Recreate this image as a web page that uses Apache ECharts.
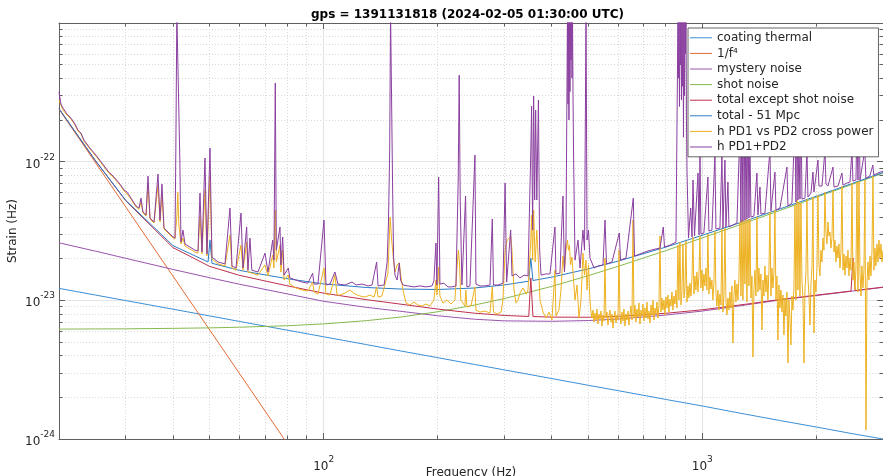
<!DOCTYPE html>
<html>
<head>
<meta charset="utf-8">
<title>Strain noise budget</title>
<script src="https://cdn.jsdelivr.net/npm/echarts@6/dist/echarts.min.js"></script>
<style>
  html, body { margin: 0; padding: 0; background: #ffffff; }
  #chart { width: 883px; height: 476px; }
</style>
</head>
<body>
<div id="chart"></div>
<script>
// ---- text ---------------------------------------------------------------
const chartTitle = 'gps = 1391131818 (2024-02-05 01:30:00 UTC)';
const xAxisName = 'Frequency (Hz)';
const yAxisName = 'Strain (Hz)';

// ---- axis ticks ---------------------------------------------------------
const xRange = [20, 3000];
const yRange = [1e-24, 1e-21];
const xMajorTicks = [100, 1000];
const xMinorTicks = [30, 40, 50, 60, 70, 80, 90, 200, 300, 400, 500, 600, 700, 800, 900, 2000];
const yMajorTicks = [1e-23, 1e-22];
const yLabelTicks = [1e-24, 1e-23, 1e-22];
const yMinorTicks = [
  2e-24, 3e-24, 4e-24, 5e-24, 6e-24, 7e-24, 8e-24, 9e-24,
  2e-23, 3e-23, 4e-23, 5e-23, 6e-23, 7e-23, 8e-23, 9e-23,
  2e-22, 3e-22, 4e-22, 5e-22, 6e-22, 7e-22, 8e-22, 9e-22
];

// ---- noise model curves (Hz, strain/rtHz) -------------------------------
const modelFreq = [20, 25, 30, 40, 50, 60, 80, 100, 130, 160, 200, 250, 300, 400, 500, 600, 800, 1000, 1300, 1600, 2000, 2500, 3000];
const coatingThermal = [12.2e-24, 10.91e-24, 9.96e-24, 8.63e-24, 7.72e-24, 7.04e-24, 6.10e-24, 5.46e-24, 4.79e-24, 4.31e-24, 3.86e-24, 3.45e-24, 3.15e-24, 2.73e-24, 2.44e-24, 2.23e-24, 1.93e-24, 1.73e-24, 1.51e-24, 1.36e-24, 1.22e-24, 1.09e-24, 1.0e-24];
const shotNoise = [6.20e-24, 6.22e-24, 6.23e-24, 6.28e-24, 6.33e-24, 6.40e-24, 6.56e-24, 6.76e-24, 7.14e-24, 7.58e-24, 8.27e-24, 9.24e-24, 10.3e-24, 12.6e-24, 15.07e-24, 17.6e-24, 22.8e-24, 28.2e-24, 36.2e-24, 44.4e-24, 55.3e-24, 69.0e-24, 82.6e-24];
const mysteryNoise = [26.0e-24, 22.6e-24, 20.1e-24, 16.7e-24, 14.55e-24, 13.06e-24, 11.14e-24, 9.84e-24, 8.89e-24, 8.33e-24, 7.74e-24, 7.31e-24, 7.11e-24, 7.06e-24, 7.15e-24, 7.33e-24, 7.83e-24, 8.37e-24, 9.25e-24, 10.05e-24, 10.83e-24, 11.67e-24, 12.41e-24];
const invF4Freq = [20, 80];
const invF4 = [239e-24, 0.934e-24];

const totalExceptShot = [
  [20, 240.7e-24], [25, 101.0e-24], [30, 52.3e-24], [40, 24.0e-24], [50, 17.57e-24], [60, 15.13e-24],
  [80, 12.74e-24], [100, 11.26e-24], [130, 10.10e-24], [160, 9.38e-24], [200, 8.65e-24], [250, 8.08e-24],
  [300, 7.78e-24], [348, 7.65e-24], [352.4, 14.5e-24], [357, 7.64e-24], [400, 7.57e-24], [500, 7.55e-24],
  [600, 7.66e-24], [800, 8.06e-24], [1000, 8.55e-24], [1300, 9.37e-24], [1600, 10.14e-24], [2000, 10.90e-24],
  [2470, 11.67e-24], [2499, 20.2e-24], [2530, 11.77e-24], [3000, 12.45e-24]
];
const totalNoise = [
  [20, 240.8e-24], [25, 101.2e-24], [30, 52.7e-24], [40, 24.8e-24], [49.5, 18.9e-24], [50.09, 27.2e-24],
  [50.7, 18.5e-24], [60, 16.43e-24], [80, 14.33e-24], [100, 13.13e-24], [130, 12.37e-24], [160, 12.06e-24],
  [200, 11.97e-24], [250, 12.27e-24], [300, 12.91e-24], [348, 13.75e-24], [352.4, 20.2e-24], [357, 13.9e-24],
  [400, 14.70e-24], [500, 16.86e-24], [600, 19.19e-24], [800, 24.18e-24], [1000, 29.47e-24], [1300, 37.39e-24],
  [1600, 45.54e-24], [2000, 56.36e-24], [2500, 69.99e-24], [3000, 83.53e-24]
];

// ---- measured spectra (Hz, strain/rtHz) ---------------------------------
const pdSumSpectrum = [
  [20.0, 317.6e-24], [20.24, 260.3e-24], [20.49, 243.5e-24], [20.99, 220.4e-24], [21.51, 206.2e-24], [22.04, 186.7e-24],
  [22.44, 169.0e-24], [22.86, 160.8e-24], [23.28, 143.1e-24], [24.15, 125.3e-24], [25.03, 111.6e-24], [25.98, 97.7e-24],
  [26.94, 85.5e-24], [27.94, 77.5e-24], [28.98, 68.9e-24], [29.70, 62.4e-24], [30.24, 60.4e-24], [30.99, 54.6e-24],
  [31.95, 47.9e-24], [32.53, 46.3e-24], [32.93, 54.6e-24], [33.33, 43.3e-24], [33.95, 41.2e-24], [34.36, 78.7e-24],
  [34.78, 39.2e-24], [35.64, 36.7e-24], [36.52, 81.4e-24], [36.96, 37.9e-24], [37.41, 68.9e-24], [37.87, 33.2e-24],
  [38.81, 31.1e-24], [39.76, 29.1e-24], [40.49, 28.1e-24], [40.7, 121.2e-24], [40.95, 1200e-24], [41.2, 1200e-24],
  [41.45, 1200e-24], [41.7, 102.7e-24], [41.99, 26.3e-24], [42.5, 32.1e-24], [43.03, 25.5e-24], [44.35, 24.2e-24],
  [45.72, 23.0e-24], [46.57, 22.7e-24], [47.14, 59.4e-24], [47.71, 22.3e-24], [48.59, 106.2e-24], [49.18, 21.6e-24],
  [50.09, 125.3e-24], [50.70, 20.5e-24], [52.59, 18.9e-24], [54.87, 18.3e-24], [56.57, 46.3e-24], [57.26, 17.7e-24],
  [58.67, 17.1e-24], [60.48, 42.6e-24], [61.22, 17.1e-24], [62.61, 33.8e-24], [63.1, 16.5e-24], [63.88, 28.1e-24],
  [64.6, 16.5e-24], [67.07, 16.0e-24], [69.99, 21.9e-24], [71.28, 16.0e-24], [73.34, 27.2e-24], [73.9, 19.5e-24],
  [74.51, 368.7e-24], [75.0, 23.0e-24], [76.67, 33.8e-24], [77.1, 18.0e-24], [77.94, 28.6e-24], [78.6, 15.2e-24],
  [80.64, 17.1e-24], [81.4, 14.5e-24], [84.5, 14.0e-24], [87.64, 13.55e-24], [90.89, 13.3e-24], [93.52, 15.7e-24],
  [94.3, 13.1e-24], [96.59, 13.1e-24], [100.2, 37.9e-24], [101.4, 12.9e-24], [103.9, 13.1e-24], [107.1, 16.0e-24],
  [109.1, 13.1e-24], [113.9, 12.9e-24], [118.8, 13.55e-24], [121.8, 12.9e-24], [126.3, 13.1e-24], [131.0, 12.7e-24],
  [134.2, 12.9e-24], [138.0, 18.9e-24], [139.2, 12.7e-24], [144.4, 12.9e-24], [147.1, 18.9e-24], [148.3, 36.7e-24],
  [149.4, 121.2e-24], [150.2, 1200e-24], [151.2, 1200e-24], [152.1, 62.4e-24], [153.0, 20.2e-24], [154.3, 15.2e-24],
  [156.3, 14.0e-24], [158.4, 18.6e-24], [159.6, 14.0e-24], [162.0, 12.9e-24], [167.0, 12.7e-24], [173.2, 12.5e-24],
  [179.6, 12.7e-24], [186.3, 12.5e-24], [193.2, 12.7e-24], [195.5, 13.8e-24], [197.9, 25.9e-24], [199.1, 12.9e-24],
  [201.2, 77.5e-24], [202.8, 13.1e-24], [207.7, 13.3e-24], [212.9, 12.5e-24], [218.1, 12.5e-24], [223.5, 12.7e-24],
  [226.6, 72.5e-24], [228.0, 421e-24], [229.4, 52.9e-24], [231.8, 12.9e-24], [237.0, 56.5e-24], [238.9, 12.5e-24],
  [243.4, 12.7e-24], [250.9, 111.6e-24], [252.4, 13.1e-24], [258.7, 12.7e-24], [266.6, 12.7e-24], [274.9, 12.9e-24],
  [278.8, 38.6e-24], [280.8, 12.9e-24], [288.7, 12.9e-24], [297.5, 13.3e-24], [301.4, 70.1e-24], [304.2, 13.55e-24],
  [311.8, 32.1e-24], [314.3, 15.0e-24], [322.0, 15.5e-24], [330.0, 14.5e-24], [338.2, 15.2e-24], [346.4, 15.0e-24],
  [352.4, 121.2e-24], [354.1, 251.7e-24], [356.3, 32.1e-24], [358.5, 297.2e-24], [360.7, 52.9e-24], [362.9, 235.5e-24],
  [365.5, 52.9e-24], [369.1, 278.2e-24], [371.8, 23.0e-24], [375.0, 15.2e-24], [386.4, 15.5e-24], [396.0, 15.5e-24],
  [408.1, 33.8e-24], [410.6, 15.5e-24], [420.7, 15.7e-24], [428.5, 56.5e-24], [432.4, 16.0e-24], [436.4, 27.2e-24],
  [440.4, 1200e-24], [441.8, 260e-24], [443.1, 1200e-24], [444.4, 200e-24], [445.8, 1200e-24], [447.2, 320e-24],
  [448.6, 1200e-24], [449.9, 540e-24], [451.3, 1200e-24], [452.7, 400e-24], [454.1, 1200e-24], [455.5, 300e-24],
  [456.9, 121.2e-24], [461.0, 19.5e-24], [469.6, 27.2e-24], [475.3, 17.1e-24], [483.9, 32.1e-24], [488.5, 23.0e-24],
  [493.0, 1200e-24], [496.0, 27.2e-24], [500.5, 32.1e-24], [505.0, 20.2e-24], [517.6, 17.1e-24], [530.3, 17.7e-24],
  [546.6, 18.0e-24], [553.3, 37.9e-24], [558.4, 18.3e-24], [577.2, 18.9e-24], [603.6, 30.6e-24], [608.0, 19.5e-24],
  [628.7, 20.2e-24], [657.2, 54.6e-24], [662.0, 20.9e-24], [684.3, 21.6e-24], [718.6, 22.7e-24], [749.8, 23.4e-24],
  [773.0, 23.8e-24], [788.6, 33.8e-24], [794.4, 24.2e-24], [821.2, 25.0e-24], [851.9, 26.3e-24], [862.3, 1200e-24],
  [865.0, 400e-24], [867.6, 1200e-24], [870.2, 250e-24], [872.9, 1200e-24], [875.5, 500e-24], [878.2, 1200e-24],
  [880.9, 278.2e-24], [883.6, 1200e-24], [886.3, 350e-24], [889.0, 1200e-24], [891.7, 150e-24], [894.4, 1200e-24],
  [897.1, 300e-24], [899.9, 1200e-24], [902.6, 600e-24], [905.4, 1200e-24], [908.0, 200e-24],
  [910.9, 87.0e-24], [919.3, 28.1e-24], [931.7, 46.3e-24], [939.1, 28.6e-24],
  [944.8, 73.7e-24], [953.5, 29.1e-24], [974.0, 82.8e-24], [980.0, 29.6e-24], [986.0, 111.6e-24], [991.4, 30.1e-24],
  [1009.6, 30.6e-24], [1034.6, 77.5e-24], [1040.9, 31.6e-24], [1060.1, 32.1e-24], [1079.6, 111.6e-24], [1086.2, 32.7e-24],
  [1113, 33.2e-24], [1126.6, 111.6e-24], [1133.5, 33.2e-24], [1147.3, 102.7e-24], [1154.3, 33.8e-24], [1168.4, 71.3e-24],
  [1175.5, 33.8e-24], [1204.5, 34.9e-24], [1234.1, 36.1e-24], [1257, 169.0e-24], [1264.5, 36.7e-24], [1272.2, 278.2e-24],
  [1280, 37.3e-24], [1287.8, 540e-24], [1295.6, 37.9e-24], [1303.6, 199.5e-24], [1311.5, 38.6e-24], [1319.5, 328.3e-24],
  [1327.6, 39.2e-24], [1335.7, 143.1e-24], [1343.8, 39.9e-24], [1368.6, 40.5e-24], [1393.8, 82.8e-24], [1402.3, 41.2e-24],
  [1419.8, 65.6e-24], [1428.2, 41.9e-24], [1463.4, 42.6e-24], [1508.5, 121.2e-24], [1517.7, 44.1e-24], [1555.1, 84.1e-24],
  [1564.6, 44.8e-24], [1603, 46.3e-24], [1672.8, 91.4e-24], [1683, 47.9e-24], [1724.5, 50.3e-24], [1756.2, 199.5e-24],
  [1767, 51.1e-24], [1777.8, 387.6e-24], [1788.6, 52.9e-24], [1799.6, 143.1e-24], [1810.6, 53.7e-24], [1821.6, 328.3e-24],
  [1832.7, 53.7e-24], [1866.5, 54.6e-24], [1889.3, 121.2e-24], [1900.9, 55.6e-24], [1935.8, 59.4e-24], [1959.6, 84.1e-24],
  [1971.6, 60.4e-24], [2020.1, 102.7e-24], [2032.5, 66.7e-24], [2069.9, 66.7e-24], [2108, 121.2e-24], [2120.9, 68.9e-24],
  [2146.9, 66.7e-24], [2173.1, 65.6e-24], [2213.1, 91.4e-24], [2226.6, 65.6e-24], [2281.4, 66.7e-24], [2337.5, 82.8e-24],
  [2351.8, 67.8e-24], [2409.6, 70.1e-24], [2454, 71.3e-24], [2484, 121.2e-24], [2499.2, 72.5e-24], [2545.2, 73.7e-24],
  [2560.7, 199.5e-24], [2576.4, 73.7e-24], [2592.1, 278.2e-24], [2608, 73.7e-24], [2638, 74.9e-24], [2686, 121.2e-24],
  [2703, 76.2e-24], [2769, 78.7e-24], [2820, 94.5e-24], [2837, 80.1e-24], [2907, 82.8e-24], [3000, 85.5e-24]
];

const crossPowerSpectrum = [
  [20.0, 278.2e-24], [20.49, 235.5e-24], [20.99, 216.8e-24], [21.51, 202.9e-24], [22.04, 183.6e-24], [22.44, 166.2e-24],
  [22.86, 158.1e-24], [23.28, 140.8e-24], [24.15, 123.3e-24], [25.03, 109.7e-24], [25.98, 96.1e-24], [26.94, 84.1e-24],
  [27.94, 76.2e-24], [28.98, 67.8e-24], [29.70, 61.4e-24], [30.24, 58.4e-24], [30.99, 53.7e-24], [31.95, 47.1e-24],
  [32.53, 45.5e-24], [32.93, 51.1e-24], [33.33, 42.6e-24], [33.95, 40.5e-24], [34.36, 67.8e-24], [34.78, 38.6e-24],
  [35.64, 36.1e-24], [36.52, 67.8e-24], [36.96, 36.7e-24], [37.41, 57.4e-24], [37.87, 32.7e-24], [38.81, 30.6e-24],
  [39.76, 28.6e-24], [40.49, 27.7e-24], [40.95, 40.0e-24], [41.2, 60.0e-24], [41.45, 35.0e-24], [41.99, 25.5e-24],
  [42.5, 28.1e-24], [43.03, 24.6e-24], [44.35, 23.4e-24], [45.72, 22.3e-24], [46.57, 21.9e-24], [47.14, 41.2e-24],
  [47.71, 21.6e-24], [48.59, 62.4e-24], [49.18, 20.9e-24], [50.09, 80.1e-24], [50.70, 19.9e-24], [52.59, 18.3e-24],
  [54.87, 17.7e-24], [56.57, 29.6e-24], [57.26, 17.1e-24], [58.67, 16.5e-24], [60.48, 25.0e-24], [61.22, 16.5e-24],
  [62.61, 26.3e-24], [63.1, 16.0e-24], [64.6, 15.7e-24], [67.07, 15.2e-24], [69.99, 18.0e-24], [71.28, 15.0e-24],
  [73.34, 21.2e-24], [73.9, 17.1e-24], [74.51, 44.8e-24], [75.0, 18.9e-24], [76.67, 25.0e-24], [77.1, 16.0e-24],
  [77.94, 23.0e-24], [78.6, 14.0e-24], [80.64, 15.2e-24], [81.4, 13.1e-24], [84.5, 12.27e-24], [87.64, 11.87e-24],
  [90.89, 11.67e-24], [93.52, 13.55e-24], [94.3, 11.48e-24], [96.59, 11.1e-24], [100.2, 17.1e-24], [101.4, 11.1e-24],
  [103.9, 10.92e-24], [107.1, 15.2e-24], [108.5, 10.92e-24], [110.4, 10.92e-24], [113.9, 11.29e-24], [117.3, 11.87e-24],
  [121.0, 11.1e-24], [124.7, 10.74e-24], [128.6, 10.56e-24], [132.5, 10.92e-24], [135.9, 10.56e-24], [138.0, 12.5e-24],
  [139.2, 10.56e-24], [142.5, 10.74e-24], [146.2, 14.0e-24], [147.8, 15.7e-24], [149.8, 39.9e-24], [151.2, 27.2e-24],
  [152.5, 21.2e-24], [154.3, 16.0e-24], [156.3, 18.0e-24], [158.4, 18.6e-24], [160.1, 14.5e-24], [162.0, 11.87e-24],
  [165.0, 9.56e-24], [169.0, 9.25e-24], [173.2, 9.72e-24], [177.4, 9.25e-24], [181.7, 9.10e-24], [186.3, 9.40e-24],
  [190.8, 9.10e-24], [195.5, 10.05e-24], [197.9, 14.0e-24], [199.1, 10.92e-24], [201.2, 17.4e-24], [202.8, 10.74e-24],
  [206.5, 9.56e-24], [211.6, 10.05e-24], [216.8, 9.40e-24], [222.1, 10.05e-24], [225.5, 18.9e-24], [226.9, 23.0e-24],
  [228.3, 18.9e-24], [230.3, 10.05e-24], [236.0, 9.10e-24], [237.4, 11.87e-24], [238.9, 8.95e-24], [244.9, 9.10e-24],
  [250.9, 12.5e-24], [252.4, 8.51e-24], [258.7, 8.23e-24], [266.6, 8.37e-24], [274.9, 8.10e-24], [278.8, 12.5e-24],
  [280.8, 8.23e-24], [286.9, 7.97e-24], [294.1, 8.23e-24], [297.5, 10.05e-24], [301.4, 23.0e-24], [305.1, 27.2e-24],
  [308.9, 28.1e-24], [311.8, 29.1e-24], [314.3, 23.0e-24], [318.2, 11.87e-24], [322.0, 9.56e-24], [326.0, 10.05e-24],
  [330.0, 11.29e-24], [336.1, 12.27e-24], [342.4, 11.1e-24], [346.4, 11.87e-24], [352.4, 27.2e-24], [354.1, 41.2e-24],
  [356.3, 19.5e-24], [358.5, 44.8e-24], [361.8, 18.9e-24], [365.5, 32.1e-24], [369.1, 18.6e-24], [372.6, 10.05e-24],
  [379.6, 8.23e-24], [386.4, 7.45e-24], [393.6, 8.23e-24], [400.8, 7.21e-24], [408.1, 16.5e-24], [410.6, 7.70e-24],
  [418.2, 8.51e-24], [423.3, 11.87e-24], [428.5, 20.9e-24], [432.4, 16.5e-24], [436.4, 23.0e-24], [440.4, 27.2e-24],
  [443.1, 23.0e-24], [445.8, 25.0e-24], [448.6, 18.0e-24], [452.7, 20.5e-24], [456.9, 14.0e-24], [461.0, 10.05e-24],
  [466.7, 12.9e-24], [472.4, 7.45e-24], [478.2, 10.05e-24], [483.9, 21.9e-24], [488.5, 15.2e-24], [493.0, 19.5e-24],
  [496.0, 11.87e-24], [500.5, 18.0e-24],
  // densely sampled noisy band above 500 Hz
  [505.0, 10.05e-24], [508.1, 8.23e-24], [511.2, 7.45e-24], [514.3, 8.51e-24], [517.5, 6.97e-24], [520.6, 8.10e-24],
  [523.8, 7.21e-24], [527.0, 8.66e-24], [530.2, 6.75e-24], [533.4, 7.97e-24], [536.6, 7.33e-24], [539.9, 8.37e-24],
  [543.2, 6.52e-24], [546.5, 7.83e-24], [549.8, 7.09e-24], [553.1, 20.2e-24], [556.5, 7.45e-24], [559.9, 8.23e-24],
  [563.3, 6.63e-24], [566.8, 7.70e-24], [570.3, 8.51e-24], [573.8, 6.97e-24], [577.3, 7.97e-24], [580.8, 6.31e-24],
  [584.4, 7.58e-24], [587.9, 8.37e-24], [591.5, 6.86e-24], [595.1, 7.83e-24], [598.8, 7.21e-24], [602.4, 23.0e-24],
  [606.0, 7.70e-24], [609.7, 6.75e-24], [613.4, 8.23e-24], [617.2, 7.09e-24], [620.9, 8.66e-24], [624.7, 6.52e-24],
  [628.5, 7.97e-24], [632.4, 7.21e-24], [636.2, 8.37e-24], [640.1, 6.63e-24], [644.0, 7.83e-24],
  [647.9, 9.10e-24], [651.9, 7.21e-24], [655.9, 37.9e-24], [659.9, 7.45e-24], [663.9, 9.25e-24], [667.9, 6.97e-24],
  [672.0, 8.66e-24], [676.1, 7.58e-24], [680.2, 9.56e-24], [684.3, 6.75e-24], [688.5, 8.51e-24], [692.7, 7.70e-24],
  [696.9, 9.40e-24], [701.2, 7.09e-24], [705.4, 8.80e-24], [709.7, 7.45e-24], [714.1, 9.72e-24], [718.4, 7.33e-24],
  [722.8, 8.37e-24], [727.3, 6.86e-24], [731.7, 9.25e-24], [736.2, 7.83e-24], [740.7, 10.05e-24], [745.2, 7.21e-24],
  [749.7, 8.80e-24], [754.3, 7.97e-24], [758.9, 9.72e-24], [763.5, 7.45e-24], [768.2, 9.10e-24], [772.9, 29.1e-24],
  [777.6, 8.23e-24], [782.3, 10.39e-24], [787.1, 8.51e-24], [791.9, 10.05e-24], [796.8, 7.83e-24], [801.6, 10.56e-24],
  [806.5, 8.80e-24], [811.4, 10.92e-24], [816.3, 8.23e-24], [821.2, 10.22e-24], [826.2, 9.10e-24], [831.3, 11.48e-24],
  [836.3, 8.51e-24], [841.4, 10.74e-24], [846.6, 9.40e-24], [851.7, 11.87e-24], [856.9, 8.80e-24], [862.2, 25.0e-24],
  [867.4, 10.05e-24], [872.7, 26.3e-24], [878.0, 9.25e-24], [883.4, 11.67e-24], [888.8, 25.5e-24], [894.2, 10.39e-24],
  [899.7, 12.27e-24], [905.2, 26.8e-24], [910.7, 9.72e-24], [916.3, 12.7e-24], [921.8, 10.39e-24], [927.5, 13.3e-24],
  [933.1, 10.74e-24], [938.8, 14.2e-24], [944.5, 28.6e-24], [950.3, 11.1e-24], [956.1, 15.0e-24], [961.9, 11.87e-24],
  [967.8, 16.0e-24], [973.7, 11.48e-24], [979.6, 15.2e-24], [985.4, 29.1e-24], [991.4, 12.27e-24], [997.4, 16.5e-24],
  [1003.5, 11.67e-24], [1009.6, 15.5e-24], [1015.8, 12.7e-24], [1022.0, 17.1e-24], [1028.2, 11.87e-24], [1034.5, 30.1e-24],
  [1040.8, 11.1e-24], [1047.2, 14.7e-24], [1053.6, 12.07e-24], [1060.0, 14.0e-24], [1066.5, 10.05e-24], [1073.0, 13.3e-24],
  [1079.5, 31.6e-24], [1086.1, 11.48e-24], [1092.7, 9.10e-24], [1099.4, 11.87e-24], [1106.1, 8.51e-24], [1113.0, 11.1e-24],
  [1119.8, 9.25e-24], [1126.6, 32.7e-24], [1133.5, 8.23e-24], [1140.4, 10.74e-24], [1147.3, 33.2e-24], [1154.3, 10.05e-24],
  [1161.4, 7.83e-24], [1168.4, 10.39e-24], [1175.6, 8.51e-24], [1182.7, 11.48e-24], [1189.9, 8.80e-24], [1197.2, 12.7e-24],
  [1204.5, 4.92e-24], [1211.8, 10.74e-24], [1219.2, 14.0e-24], [1226.7, 9.72e-24], [1234.2, 13.1e-24], [1241.7, 10.05e-24],
  [1249.3, 14.5e-24], [1257.0, 36.7e-24], [1264.6, 10.74e-24], [1272.3, 37.9e-24], [1280.1, 10.05e-24], [1287.9, 37.3e-24],
  [1295.8, 13.1e-24], [1303.7, 38.6e-24], [1311.6, 9.72e-24], [1319.6, 37.9e-24], [1327.7, 12.7e-24], [1335.7, 38.6e-24],
  [1343.9, 10.39e-24], [1352.1, 15.0e-24], [1360.3, 3.90e-24], [1368.6, 11.87e-24], [1377.0, 16.5e-24], [1385.4, 10.74e-24],
  [1393.8, 39.9e-24], [1402.3, 11.48e-24], [1410.9, 17.1e-24], [1419.5, 11.87e-24], [1428.2, 15.5e-24], [1436.9, 6.11e-24],
  [1445.6, 14.0e-24], [1454.5, 10.74e-24], [1463.3, 17.7e-24], [1472.3, 11.48e-24], [1481.2, 15.2e-24], [1490.3, 10.05e-24],
  [1499.4, 16.5e-24], [1508.5, 43.3e-24], [1517.7, 10.74e-24], [1527.0, 17.1e-24], [1536.3, 12.27e-24], [1545.7, 16.0e-24],
  [1555.1, 44.8e-24], [1564.6, 10.05e-24], [1574.1, 15.0e-24], [1583.7, 5.17e-24], [1593.4, 12.9e-24], [1603.1, 8.80e-24],
  [1612.9, 11.87e-24], [1622.7, 8.23e-24], [1632.6, 10.92e-24], [1642.6, 5.63e-24], [1652.6, 10.39e-24], [1662.7, 7.70e-24],
  [1672.8, 11.48e-24], [1683.0, 3.53e-24], [1693.3, 10.05e-24], [1703.6, 7.45e-24], [1714.0, 4.76e-24], [1724.5, 10.74e-24],
  [1735.0, 8.51e-24], [1745.6, 12.27e-24], [1756.2, 48.6e-24], [1766.9, 10.05e-24], [1777.7, 52.9e-24], [1788.5, 11.87e-24],
  [1799.5, 51.1e-24], [1810.5, 10.74e-24], [1821.5, 50.3e-24], [1832.6, 14.0e-24], [1843.8, 10.39e-24], [1855.1, 3.53e-24],
  [1866.4, 11.87e-24], [1877.8, 16.0e-24], [1889.2, 53.7e-24], [1900.8, 14.5e-24], [1912.4, 10.74e-24], [1924.0, 6.63e-24],
  [1935.8, 13.1e-24], [1947.6, 17.1e-24], [1959.5, 55.6e-24], [1971.4, 5.81e-24], [1983.5, 14.0e-24], [1995.6, 11.48e-24],
  [2007.7, 17.1e-24], [2020.0, 57.4e-24], [2032.3, 18.0e-24], [2044.7, 15.0e-24], [2057.2, 23.0e-24], [2069.7, 18.9e-24],
  [2082.4, 28.1e-24], [2095.1, 23.0e-24], [2107.9, 60.4e-24], [2120.7, 31.1e-24], [2133.7, 25.5e-24], [2146.7, 36.7e-24],
  [2159.8, 29.1e-24], [2173.0, 31.1e-24], [2186.2, 23.8e-24], [2199.6, 28.1e-24], [2213.0, 62.4e-24], [2226.5, 22.3e-24],
  [2240.1, 27.2e-24], [2253.7, 18.9e-24], [2267.5, 24.6e-24], [2281.3, 20.2e-24], [2295.2, 25.5e-24], [2309.2, 17.1e-24],
  [2323.3, 22.3e-24], [2337.5, 66.7e-24], [2351.8, 16.5e-24], [2366.1, 21.6e-24], [2380.5, 15.2e-24], [2395.1, 20.9e-24],
  [2409.7, 17.1e-24], [2424.4, 23.0e-24], [2439.2, 15.0e-24], [2454.0, 20.2e-24], [2469.0, 16.5e-24], [2484.1, 70.1e-24],
  [2499.2, 14.0e-24], [2514.5, 18.9e-24], [2529.8, 11.87e-24], [2545.2, 17.1e-24], [2560.8, 71.3e-24], [2576.4, 11.48e-24],
  [2592.1, 72.5e-24], [2607.9, 16.0e-24], [2623.8, 10.74e-24], [2639.8, 17.7e-24], [2655.9, 12.27e-24], [2672.1, 16.5e-24],
  [2688.4, 73.7e-24], [2704.8, 1.16e-24], [2721.3, 13.1e-24], [2737.9, 18.9e-24], [2754.6, 14.0e-24], [2771.4, 20.9e-24],
  [2788.3, 15.0e-24], [2805.3, 22.3e-24], [2822.4, 78.7e-24], [2839.6, 16.5e-24], [2856.9, 23.8e-24], [2874.4, 17.7e-24],
  [2891.9, 25.5e-24], [2909.5, 18.9e-24], [2927.3, 27.2e-24], [2945.1, 20.2e-24], [2963.1, 25.5e-24], [2981.2, 18.9e-24],
  [3000, 23.0e-24]
];

// ---- styling ------------------------------------------------------------
const FONT = "'DejaVu Sans', 'Liberation Sans', sans-serif";
const TEXT = '#262626';
const AXIS = '#606060';

// The log axis works in units of 1e-24 strain: ECharts rounds tick values
// to 10 decimals, which would collapse 1e-23 and friends to zero.
const STRAIN_UNIT = 1e-24;
const UNIT_EXP = -24;
const toUnit = h => h / STRAIN_UNIT;
const pairsToUnit = pairs => pairs.map(p => [p[0], toUnit(p[1])]);
const zip = (xs, ys) => xs.map((x, i) => [x, toUnit(ys[i])]);

const powerLabel = exp0 => v => '{b|10}{s|' + (Math.round(Math.log10(v)) + exp0) + '}';
const labelRich = {
  b: { fontSize: 12, fontFamily: FONT, color: TEXT, lineHeight: 18, verticalAlign: 'bottom' },
  s: { fontSize: 9, fontFamily: FONT, color: TEXT, lineHeight: 10, verticalAlign: 'top' }
};

function baseAxis(range, extra) {
  return Object.assign({
    type: 'log', logBase: 10, min: range[0], max: range[1], gridIndex: 0,
    axisLine: { show: false },
    axisTick: { show: false },
    axisLabel: { show: false, customValues: [] },
    splitLine: { show: false },
    minorTick: { show: false },
    minorSplitLine: { show: false },
    nameMoveOverlap: false,
    silent: true
  }, extra);
}

const yRangeU = yRange.map(toUnit);
const yMajorU = yMajorTicks.map(toUnit);
const yMinorU = yMinorTicks.map(toUnit);
const yLabelU = yLabelTicks.map(toUnit);

const xAxes = [
  baseAxis(xRange, {
    position: 'bottom',
    axisLine: { show: true, lineStyle: { color: AXIS, width: 1 } },
    axisTick: { show: true, inside: true, length: 6, customValues: xMajorTicks, lineStyle: { color: AXIS } },
    axisLabel: { show: true, customValues: xMajorTicks, formatter: powerLabel(0), rich: labelRich, margin: 16 },
    splitLine: { show: true, lineStyle: { color: '#e4e4e4', width: 1.2, type: 'solid' } },
    name: xAxisName, nameLocation: 'middle', nameGap: 28,
    nameTextStyle: { fontFamily: FONT, fontSize: 12, color: TEXT }
  }),
  baseAxis(xRange, {
    position: 'bottom',
    axisTick: { show: true, inside: true, length: 3.5, customValues: xMinorTicks, lineStyle: { color: AXIS } },
    splitLine: { show: true, lineStyle: { color: '#d9d9d9', width: 1, type: [1, 2] } }
  }),
  baseAxis(xRange, {
    position: 'top',
    axisLine: { show: true, lineStyle: { color: AXIS, width: 1 } },
    axisTick: { show: true, inside: true, length: 6, customValues: xMajorTicks, lineStyle: { color: AXIS } }
  }),
  baseAxis(xRange, {
    position: 'top',
    axisTick: { show: true, inside: true, length: 3.5, customValues: xMinorTicks, lineStyle: { color: AXIS } }
  })
];

const yAxes = [
  baseAxis(yRangeU, {
    position: 'left',
    axisLine: { show: true, lineStyle: { color: AXIS, width: 1 } },
    axisTick: { show: true, inside: true, length: 6, customValues: yMajorU, lineStyle: { color: AXIS } },
    axisLabel: { show: true, customValues: yLabelU, formatter: powerLabel(UNIT_EXP), rich: labelRich, margin: 4 },
    splitLine: { show: true, lineStyle: { color: '#e4e4e4', width: 1.2, type: 'solid' } },
    name: yAxisName, nameLocation: 'middle', nameGap: 40,
    nameTextStyle: { fontFamily: FONT, fontSize: 12, color: TEXT }
  }),
  baseAxis(yRangeU, {
    position: 'left',
    axisTick: { show: true, inside: true, length: 3.5, customValues: yMinorU, lineStyle: { color: AXIS } },
    splitLine: { show: true, lineStyle: { color: '#d9d9d9', width: 1, type: [1, 2] } }
  }),
  baseAxis(yRangeU, {
    position: 'right',
    axisLine: { show: true, lineStyle: { color: AXIS, width: 1 } },
    axisTick: { show: true, inside: true, length: 6, customValues: yMajorU, lineStyle: { color: AXIS } }
  }),
  baseAxis(yRangeU, {
    position: 'right',
    axisTick: { show: true, inside: true, length: 3.5, customValues: yMinorU, lineStyle: { color: AXIS } }
  })
];

function curve(name, color, data, width) {
  return {
    name, type: 'line', data, xAxisIndex: 0, yAxisIndex: 0,
    color, showSymbol: false, symbol: 'none', clip: true, silent: true,
    lineStyle: { color, width: width || 1 }, z: 2, animation: false,
    emphasis: { disabled: true }
  };
}

// drawn in legend order, so the measured spectra end up on top
const seriesList = [
  curve('coating thermal', '#3a8fd6', zip(modelFreq, coatingThermal)),
  curve('1/f⁴', '#e36b34', zip(invF4Freq, invF4)),
  curve('mystery noise', '#9b54ad', zip(modelFreq, mysteryNoise)),
  curve('shot noise', '#86b94f', zip(modelFreq, shotNoise)),
  curve('total except shot noise', '#bd2f4d', pairsToUnit(totalExceptShot)),
  curve('total - 51 Mpc', '#2a7cc4', pairsToUnit(totalNoise)),
  curve('h PD1 vs PD2 cross power', '#edb120', pairsToUnit(crossPowerSpectrum)),
  curve('h PD1+PD2', '#8a3f9f', pairsToUnit(pdSumSpectrum))
];

const chart = echarts.init(document.getElementById('chart'), null, { renderer: 'canvas' });
chart.setOption({
  animation: false,
  backgroundColor: '#ffffff',
  textStyle: { fontFamily: FONT },
  title: {
    text: chartTitle, left: 306, top: 4,
    textStyle: { fontFamily: FONT, fontSize: 12, fontWeight: 'bold', color: '#000000' }
  },
  grid: { left: 59, right: 0, top: 23, bottom: 37, containLabel: false, outerBoundsMode: 'none' },
  xAxis: xAxes,
  yAxis: yAxes,
  legend: {
    data: seriesList.map(s => s.name), orient: 'vertical', left: 688, top: 28,
    icon: 'rect', itemWidth: 22, itemHeight: 1, itemGap: 0,
    padding: [2, 5, 2, 2],
    backgroundColor: '#ffffff', borderColor: '#3c3c3c', borderWidth: 0.8,
    selectedMode: false,
    textStyle: { fontFamily: FONT, fontSize: 12, color: TEXT, lineHeight: 15.6 }
  },
  series: seriesList
});
</script>
</body>
</html>
